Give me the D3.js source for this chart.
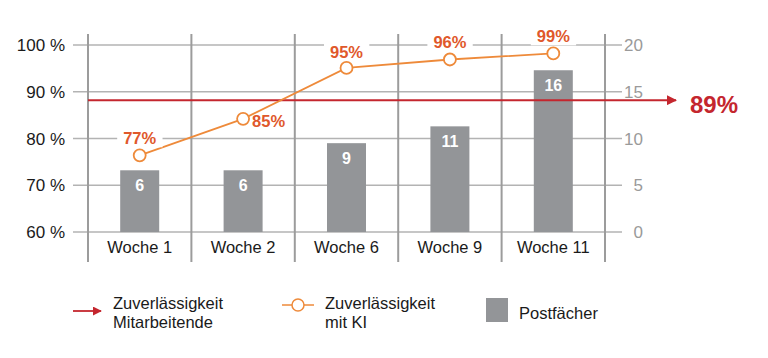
<!DOCTYPE html>
<html>
<head>
<meta charset="utf-8">
<script src="https://cdn.jsdelivr.net/npm/d3@7"></script>
<style>
  html, body { margin: 0; padding: 0; background: #fff; }
  svg { display: block; font-family: "Liberation Sans", Arial, sans-serif; }
</style>
</head>
<body>
<svg id="chart" width="768" height="358"></svg>
<script>
// ---- data ----
const categories = ["Woche 1", "Woche 2", "Woche 6", "Woche 9", "Woche 11"];
const mailboxValues = [6.6, 6.6, 9.5, 11.3, 17.3];          // bar heights as drawn
const mailboxLabels = ["6", "6", "9", "11", "16"];
const aiReliability = [76.4, 84.2, 95.1, 96.9, 98.2];        // point positions as drawn
const aiLabels = ["77%", "85%", "95%", "96%", "99%"];
const staffReliability = 88.2;
const staffLabel = "89%";
const leftTicks = [60, 70, 80, 90, 100];
const rightTicks = [0, 5, 10, 15, 20];
const legendItems = [
  { key: "staff", lines: ["Zuverlässigkeit", "Mitarbeitende"] },
  { key: "ai", lines: ["Zuverlässigkeit", "mit KI"] },
  { key: "bars", lines: ["Postfächer"] }
];

// ---- styles ----
const C = {
  grid: "#b3b3b3", vgrid: "#9c9c9c", bar: "#939598", red: "#c4262e",
  orange: "#ee8a3a", orangeText: "#e0582b", text: "#1a1a1a", rightText: "#9a9a9a"
};

const svg = d3.select("#chart");
const x = d3.scaleBand().domain(categories).range([88, 605]).paddingInner(0).paddingOuter(0);
const yL = d3.scaleLinear().domain([60, 100]).range([232, 45]);
const yR = d3.scaleLinear().domain([0, 20]).range([232, 45]);

// horizontal grid with left/right tick extensions
const gGrid = svg.append("g");
gGrid.selectAll("line.h").data(leftTicks).join("line")
  .attr("x1", 73).attr("x2", 622)
  .attr("y1", d => yL(d)).attr("y2", d => yL(d))
  .attr("stroke", C.grid).attr("stroke-width", 1.5);

// vertical lines at band boundaries
const bounds = categories.map(c => x(c)).concat([x.range()[1]]);
gGrid.selectAll("line.v").data(bounds).join("line")
  .attr("x1", d => d).attr("x2", d => d)
  .attr("y1", 34).attr("y2", 262)
  .attr("stroke", C.vgrid).attr("stroke-width", 2);

// left axis labels
svg.append("g").selectAll("text").data(leftTicks).join("text")
  .attr("x", 65).attr("y", d => yL(d)).attr("dy", "0.36em")
  .attr("text-anchor", "end").attr("font-size", 17).attr("fill", C.text)
  .text(d => d + " %");

// right axis labels
svg.append("g").selectAll("text").data(rightTicks).join("text")
  .attr("x", 643).attr("y", d => yR(d)).attr("dy", "0.36em")
  .attr("text-anchor", "end").attr("font-size", 17).attr("fill", C.rightText)
  .text(d => d);

// category labels
svg.append("g").selectAll("text").data(categories).join("text")
  .attr("x", d => x(d) + x.bandwidth() / 2).attr("y", 247).attr("dy", "0.36em")
  .attr("text-anchor", "middle").attr("font-size", 16.5).attr("fill", C.text)
  .text(d => d);

// bars
const barW = 39;
const gBars = svg.append("g");
gBars.selectAll("rect").data(categories).join("rect")
  .attr("x", d => x(d) + x.bandwidth() / 2 - barW / 2)
  .attr("width", barW)
  .attr("y", (d, i) => yR(mailboxValues[i]))
  .attr("height", (d, i) => yR(0) - yR(mailboxValues[i]))
  .attr("fill", C.bar);
gBars.selectAll("text").data(categories).join("text")
  .attr("x", d => x(d) + x.bandwidth() / 2)
  .attr("y", (d, i) => yR(mailboxValues[i]) + 15).attr("dy", "0.36em")
  .attr("text-anchor", "middle").attr("font-size", 16).attr("font-weight", "bold")
  .attr("fill", "#fff").text((d, i) => mailboxLabels[i]);

// red reference line with arrow
const defs = svg.append("defs");
defs.append("marker").attr("id", "arrRed").attr("viewBox", "0 0 10 10")
  .attr("refX", 9).attr("refY", 5).attr("markerWidth", 5).attr("markerHeight", 5)
  .attr("markerUnits", "strokeWidth").attr("orient", "auto")
  .append("path").attr("d", "M0,0 L10,5 L0,10 z").attr("fill", C.red);
svg.append("line")
  .attr("x1", 88).attr("x2", 676)
  .attr("y1", yL(staffReliability)).attr("y2", yL(staffReliability))
  .attr("stroke", C.red).attr("stroke-width", 2).attr("marker-end", "url(#arrRed)");
svg.append("text").attr("x", 690).attr("y", yL(staffReliability) + 4).attr("dy", "0.36em")
  .attr("font-size", 24).attr("font-weight", "bold").attr("fill", C.red).text(staffLabel);

// AI line
const pts = categories.map((c, i) => [x(c) + x.bandwidth() / 2, yL(aiReliability[i])]);
svg.append("path").attr("d", d3.line()(pts))
  .attr("fill", "none").attr("stroke", C.orange).attr("stroke-width", 1.8);
svg.append("g").selectAll("circle").data(pts).join("circle")
  .attr("cx", d => d[0]).attr("cy", d => d[1]).attr("r", 6)
  .attr("fill", "#fff").attr("stroke", C.orange).attr("stroke-width", 1.8);

// AI labels (with white background)
const labelPos = [
  { dx: 0, dy: -17, anchor: "middle" },
  { dx: 9, dy: 2, anchor: "start" },
  { dx: 0, dy: -16, anchor: "middle" },
  { dx: 0, dy: -17, anchor: "middle" },
  { dx: 0, dy: -17, anchor: "middle" }
];
const gLab = svg.append("g");
pts.forEach((p, i) => {
  const lp = labelPos[i];
  const t = gLab.append("text")
    .attr("x", p[0] + lp.dx).attr("y", p[1] + lp.dy).attr("dy", "0.36em")
    .attr("text-anchor", lp.anchor).attr("font-size", 16.5).attr("font-weight", "bold")
    .attr("fill", C.orangeText).text(aiLabels[i]);
  const bb = t.node().getBBox();
  if (i !== 1) {
    gLab.insert("rect", () => t.node())
      .attr("x", bb.x - 6).attr("y", bb.y).attr("width", bb.width + 12).attr("height", bb.height)
      .attr("fill", "#fff");
  }
});

// legend
const gLeg = svg.append("g");
// staff
gLeg.append("line").attr("x1", 73).attr("x2", 101).attr("y1", 311).attr("y2", 311)
  .attr("stroke", C.red).attr("stroke-width", 1.8).attr("marker-end", "url(#arrRed)");
// ai
gLeg.append("line").attr("x1", 282).attr("x2", 314).attr("y1", 305).attr("y2", 305)
  .attr("stroke", C.orange).attr("stroke-width", 1.5);
gLeg.append("circle").attr("cx", 298).attr("cy", 305).attr("r", 6)
  .attr("fill", "#fff").attr("stroke", C.orange).attr("stroke-width", 1.5);
// bars
gLeg.append("rect").attr("x", 486).attr("y", 298).attr("width", 22).attr("height", 24).attr("fill", C.bar);

const legX = { staff: 113, ai: 325, bars: 519 };
const legY = { staff: 303, ai: 303, bars: 313 };
legendItems.forEach(item => {
  const t = gLeg.append("text").attr("x", legX[item.key]).attr("y", legY[item.key])
    .attr("font-size", 16.5).attr("fill", C.text);
  item.lines.forEach((ln, j) => {
    t.append("tspan").attr("x", legX[item.key]).attr("dy", j === 0 ? "0.36em" : 19).text(ln);
  });
});
</script>
</body>
</html>
